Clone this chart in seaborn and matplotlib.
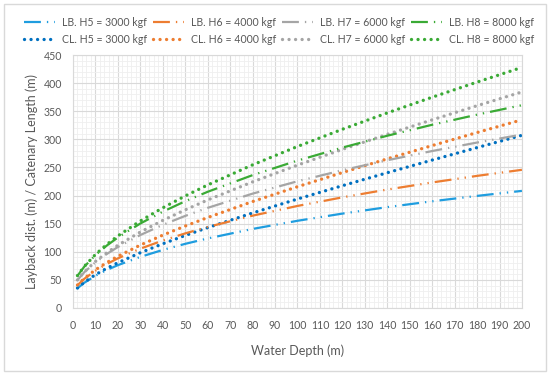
import matplotlib
matplotlib.use('Agg')
import matplotlib.pyplot as plt
import seaborn as sns
from matplotlib.patches import Rectangle
from matplotlib.ticker import MultipleLocator

# Data (water depth in m, lengths in m)
depth = [2, 5, 10, 15, 20, 30, 40, 50, 60, 80, 100, 120, 140, 160, 180, 200]

lb_h5 = [35.1, 44.8, 57.3, 67.5, 76.2, 90.9, 103.3, 114.1, 123.7, 140.6, 155.1, 167.9, 179.4, 189.8, 199.4, 208.3]
lb_h6 = [40.5, 51.8, 66.3, 78.1, 88.3, 105.5, 120.0, 132.7, 144.1, 164.2, 181.5, 196.8, 210.7, 223.3, 235.0, 245.8]
lb_h7 = [49.6, 63.5, 81.4, 95.9, 108.5, 129.8, 147.9, 163.8, 178.1, 203.4, 225.4, 245.0, 262.8, 279.2, 294.3, 308.5]
lb_h8 = [57.3, 73.3, 94.1, 110.9, 125.4, 150.3, 171.3, 189.9, 206.7, 236.3, 262.2, 285.3, 306.4, 325.9, 343.9, 360.8]

cl_h5 = [35.5, 45.6, 59.2, 70.5, 80.5, 98.3, 114.2, 129.0, 142.9, 169.0, 193.8, 217.5, 240.6, 263.1, 285.3, 307.2]
cl_h6 = [40.9, 52.5, 67.9, 80.7, 92.0, 111.9, 129.6, 145.8, 160.9, 189.3, 215.7, 240.9, 265.3, 288.9, 312.1, 334.8]
cl_h7 = [49.9, 64.1, 82.7, 98.1, 111.6, 135.1, 155.8, 174.6, 192.1, 224.3, 254.1, 282.1, 308.9, 334.7, 359.8, 384.3]
cl_h8 = [57.6, 73.9, 95.2, 112.8, 128.2, 154.9, 178.2, 199.3, 218.8, 254.6, 287.3, 317.9, 347.0, 374.9, 401.8, 428.0]

labels_lb = ['LB. H5 = 3000 kgf', 'LB. H6 = 4000 kgf', 'LB. H7 = 6000 kgf', 'LB. H8 = 8000 kgf']
labels_cl = ['CL. H5 = 3000 kgf', 'CL. H6 = 4000 kgf', 'CL. H7 = 6000 kgf', 'CL. H8 = 8000 kgf']

colors_lb = ['#1f9ddf', '#ed7d31', '#a5a5a5', '#3aaa35']
colors_cl = ['#0070c0', '#ed7d31', '#a5a5a5', '#3aaa35']

sns.set_style('white')
plt.rcParams['font.family'] = ['Lato', 'DejaVu Sans']
text_color = '#595959'

fig = plt.figure(figsize=(5.5, 3.75), dpi=100)
ax = fig.add_axes([0.1327, 0.1787, 0.8163, 0.6746])

# chart border
fig.patches.append(Rectangle((0.007, 0.01), 0.985, 0.98, transform=fig.transFigure,
                             fill=False, edgecolor='#d9d9d9', linewidth=1.0))

dash_dot_dot = (0, (7.6, 2.7, 0.6, 2.7, 0.6, 2.7))
round_dot = (0, (0.01, 1.95))

handles = []
for lb, cl, lab_lb, lab_cl, c_lb, c_cl in zip([lb_h5, lb_h6, lb_h7, lb_h8],
                                             [cl_h5, cl_h6, cl_h7, cl_h8],
                                             labels_lb, labels_cl, colors_lb, colors_cl):
    sns.lineplot(x=depth, y=lb, ax=ax, color=c_lb, linewidth=1.6,
                 linestyle=dash_dot_dot, label=lab_lb)
    handles.append(ax.lines[-1])
    sns.lineplot(x=depth, y=cl, ax=ax, color=c_cl, linewidth=2.4,
                 linestyle=round_dot, dash_capstyle='round', label=lab_cl)
    handles.append(ax.lines[-1])

ax.get_legend().remove()

ax.set_xlim(0, 200)
ax.set_ylim(0, 450)
ax.xaxis.set_major_locator(MultipleLocator(10))
ax.xaxis.set_minor_locator(MultipleLocator(2))
ax.yaxis.set_major_locator(MultipleLocator(50))
ax.yaxis.set_minor_locator(MultipleLocator(10))
ax.grid(which='major', color='#d9d9d9', linewidth=0.8)
ax.grid(which='minor', color='#efefef', linewidth=0.6)
ax.set_axisbelow(True)
for s in ax.spines.values():
    s.set_color('#d9d9d9')
    s.set_linewidth(0.8)
ax.tick_params(which='both', length=0, labelsize=7.6, colors=text_color)
ax.tick_params(axis='x', pad=9)
ax.tick_params(axis='y', pad=8)

ax.set_xlabel('Water Depth (m)', fontsize=9, color=text_color, labelpad=9)
ax.set_ylabel('Layback dist. (m) / Catenary Length (m)', fontsize=9, color=text_color, labelpad=4)

fig.legend(handles=handles, labels=[h.get_label() for h in handles], ncol=4,
           loc='center', bbox_to_anchor=(0.507, 0.918), frameon=False,
           fontsize=7.6, handlelength=3.0, handletextpad=0.6, columnspacing=0.55,
           labelcolor=text_color, labelspacing=0.55)

fig.savefig('out.png', dpi=100)
